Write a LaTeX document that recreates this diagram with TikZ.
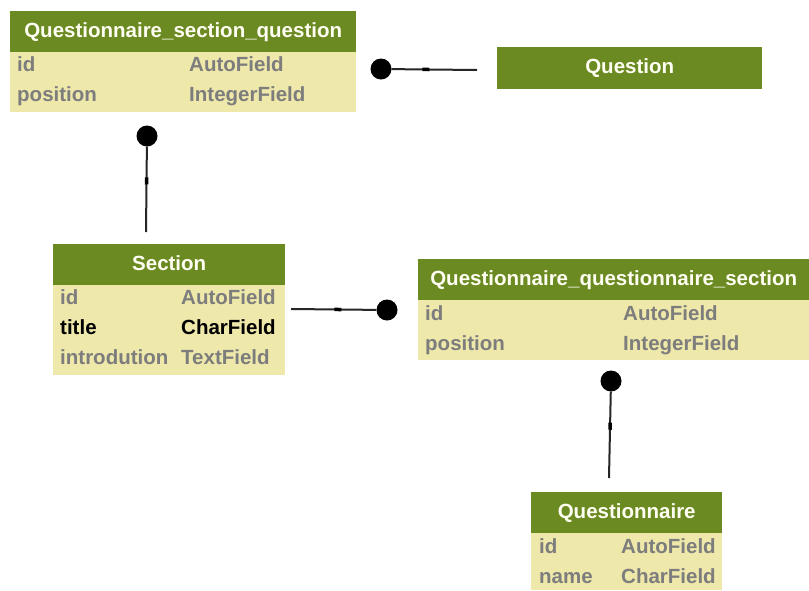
\documentclass[tikz,border=0pt]{standalone}
\usepackage{fontspec}
\setmainfont{Liberation Sans}
\usetikzlibrary{positioning}

\definecolor{hdGreen}{RGB}{107,138,34}
\definecolor{bdYellow}{RGB}{238,232,170}
\definecolor{fdGrey}{RGB}{125,125,125}

\tikzstyle{tH}=[rectangle,anchor=north west,fill=hdGreen,minimum height=41pt,inner sep=0pt,text=white!95!yellow,text height=15pt,text depth=4pt,font=\fontsize{20.5}{24}\selectfont\bfseries]
\tikzstyle{tB}=[rectangle,anchor=north west,fill=bdYellow,inner sep=0pt]
\tikzstyle{fN}=[anchor=base west,inner sep=0pt,text=fdGrey,font=\fontsize{20.5}{24}\selectfont\bfseries]
\tikzstyle{fK}=[fN,text=black]
\tikzstyle{dS}=[circle,fill=black,minimum size=21pt,inner sep=0pt]
\tikzstyle{eS}=[line width=2pt,draw=black!85]
\tikzstyle{tK}=[fill=black,minimum width=7pt,minimum height=3.5pt,inner sep=0pt,sloped]

\begin{document}
\begin{tikzpicture}[x=1pt,y=-1pt]
                \useasboundingbox (0,0) rectangle (809,590);
                % Questionnaire_section_question
                \draw (10,52) node[tB,minimum width=346pt,minimum height=60pt] (qsqB) {};
                \draw (10,11) node[tH,minimum width=346pt] (qsqH) {Questionnaire\_section\_question};
                \draw (17,71) node[fN] (qsqF1) {id};
                \draw (189,71) node[fN] (qsqT1) {AutoField};
                \draw (17,101) node[fN] (qsqF2) {position};
                \draw (189,101) node[fN] (qsqT2) {IntegerField};
                % Question
                \draw (497,47) node[tH,minimum width=265pt,minimum height=42pt] (qH) {Question};
                % Section
                \draw (53,285) node[tB,minimum width=232pt,minimum height=90pt] (sB) {};
                \draw (53,244) node[tH,minimum width=232pt] (sH) {Section};
                \draw (60,304) node[fN] (sF1) {id};
                \draw (181,304) node[fN] (sT1) {AutoField};
                \draw (60,334) node[fK] (sF2) {title};
                \draw (181,334) node[fK] (sT2) {CharField};
                \draw (60,364) node[fN] (sF3) {introdution};
                \draw (181,364) node[fN] (sT3) {TextField};
                % Questionnaire_questionnaire_section
                \draw (418,300) node[tB,minimum width=391pt,minimum height=60pt] (qqsB) {};
                \draw (418,259) node[tH,minimum width=391pt] (qqsH) {Questionnaire\_questionnaire\_section};
                \draw (425,320) node[fN] (qqsF1) {id};
                \draw (623,320) node[fN] (qqsT1) {AutoField};
                \draw (425,350) node[fN] (qqsF2) {position};
                \draw (623,350) node[fN] (qqsT2) {IntegerField};
                % Questionnaire
                \draw (531,533) node[tB,minimum width=191pt,minimum height=57pt] (qnB) {};
                \draw (531,492) node[tH,minimum width=191pt] (qnH) {Questionnaire};
                \draw (539,553) node[fN] (qnF1) {id};
                \draw (621,553) node[fN] (qnT1) {AutoField};
                \draw (539,583) node[fN] (qnF2) {name};
                \draw (621,583) node[fN] (qnT2) {CharField};
                % relations
                \draw (381,69) node[dS] (d1) {};
                \draw (147,136) node[dS] (d2) {};
                \draw (387,310) node[dS] (d3) {};
                \draw (611,381) node[dS] (d4) {};
                \coordinate (e1) at (477,70);
                \coordinate (e2) at (146,232);
                \coordinate (e3) at (291,309);
                \coordinate (e4) at (609,478);
                \path
                    (d1) edge[eS] node[tK,pos=0.4]{} (e1)
                    (d2) edge[eS] node[tK,pos=0.4]{} (e2)
                    (d3) edge[eS] node[tK,pos=0.45]{} (e3)
                    (d4) edge[eS] node[tK,pos=0.4]{} (e4)
                ;
        \end{tikzpicture}
\end{document}
